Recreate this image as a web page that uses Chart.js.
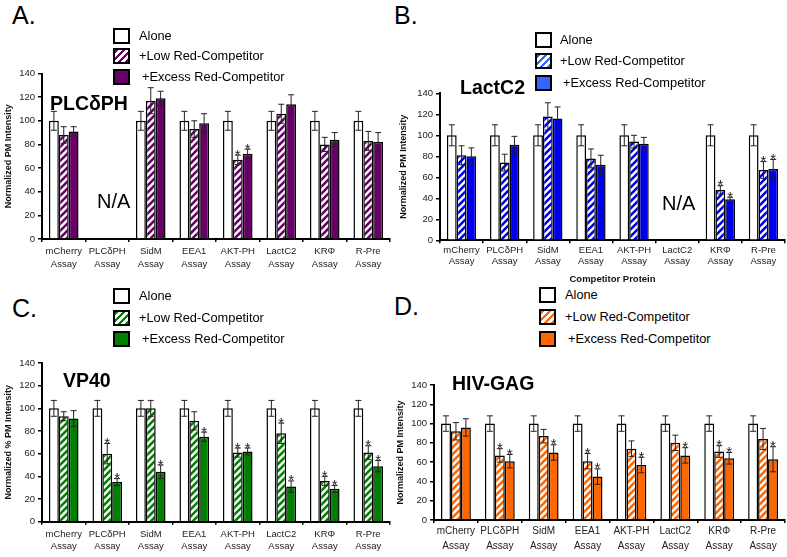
<!DOCTYPE html>
<html>
<head>
<meta charset="utf-8">
<script src="https://cdn.jsdelivr.net/npm/chart.js@4.4.1/dist/chart.umd.min.js"></script>
<style>
  body { margin: 0; background: #fff; font-family: "Liberation Sans", Arial, sans-serif; }
  #wrap { position: relative; width: 787px; height: 557px; overflow: hidden; }
  .t { position: absolute; white-space: nowrap; color: #000; line-height: 1; }
  canvas { position: absolute; }
  .box { position: absolute; width: 17px; height: 16px; border: 2px solid #000; box-sizing: border-box; }
  .lt { position: absolute; font-size: 12.8px; white-space: nowrap; line-height: 1; }
  .big { font-size: 25px; }
  .name { font-size: 19.5px; font-weight: bold; }
  .na { font-size: 20px; }
</style>
</head>
<body>
<div id="wrap">
  <canvas id="chartA" width="393" height="220" style="left:0;top:60px"></canvas>
  <canvas id="chartB" width="392" height="205" style="left:395px;top:80px"></canvas>
  <canvas id="chartC" width="393" height="207" style="left:0;top:350px"></canvas>
  <canvas id="chartD" width="392" height="185" style="left:395px;top:372px"></canvas>

  <div class="t big" style="left:12px;top:3px">A.</div>
  <div class="t big" style="left:394px;top:3px">B.</div>
  <div class="t big" style="left:12px;top:296px">C.</div>
  <div class="t big" style="left:394px;top:294px">D.</div>

  <div class="t name" style="left:50px;top:94px">PLCδPH</div>
  <div class="t name" style="left:460px;top:78px">LactC2</div>
  <div class="t name" style="left:63px;top:371px">VP40</div>
  <div class="t name" style="left:452px;top:374px">HIV-GAG</div>

  <div class="t na" style="left:97px;top:191px">N/A</div>
  <div class="t na" style="left:662px;top:193px">N/A</div>

  <div id="legA"></div><div id="legB"></div><div id="legC"></div><div id="legD"></div>
</div>
<script>
// categories and series
const categories = [['mCherry', 'Assay'], ['PLCδPH', 'Assay'], ['SidM', 'Assay'], ['EEA1', 'Assay'],
                    ['AKT-PH', 'Assay'], ['LactC2', 'Assay'], ['KRΦ', 'Assay'], ['R-Pre', 'Assay']];
const seriesNames = ['Alone', '+Low Red-Competitor', '+Excess Red-Competitor'];

// A. PLCδPH
const aAlone = [100, null, 100, 100, 100, 100, 100, 100];
const aAloneErr = [8, null, 8, 8, 8, 8, 8, 8];
const aLow = [88, null, 117, 93, 67, 106, 80, 83];
const aLowErr = [7, null, 11, 7, 4, 8, 6, 8];
const aExcess = [91, null, 119, 98, 72, 114, 84, 82];
const aExcessErr = [4, null, 6, 8, 4, 8, 6, 8];
const aLowStar = [0, 0, 0, 0, 1, 0, 0, 0];
const aExcessStar = [0, 0, 0, 0, 1, 0, 0, 0];

// B. LactC2
const bAlone = [100, 100, 100, 100, 100, null, 100, 100];
const bAloneErr = [10, 10, 10, 10, 10, null, 10, 10];
const bLow = [81, 74, 118, 78, 94, null, 48, 67];
const bLowErr = [9, 8, 13, 9, 6, null, 4, 8];
const bExcess = [80, 91, 116, 72, 92, null, 39, 68];
const bExcessErr = [8, 8, 11, 9, 6, null, 2, 9];
const bLowStar = [0, 0, 0, 0, 0, 0, 1, 1];
const bExcessStar = [0, 0, 0, 0, 0, 0, 1, 1];

// C. VP40
const cAlone = [100, 100, 100, 100, 100, 100, 100, 100];
const cAloneErr = [7, 7, 7, 7, 7, 7, 7, 7];
const cLow = [93, 60, 100, 89, 61, 78, 36, 61];
const cLowErr = [4, 9, 7, 8, 4, 9, 4, 6];
const cExcess = [91, 35, 44, 75, 62, 31, 29, 49];
const cExcessErr = [7, 3, 6, 4, 3, 5, 3, 5];
const cLowStar = [0, 1, 0, 0, 1, 1, 1, 1];
const cExcessStar = [0, 1, 1, 1, 1, 1, 1, 1];

// D. HIV-GAG
const dAlone = [100, 100, 100, 100, 100, 100, 100, 100];
const dAloneErr = [8, 8, 8, 8, 8, 8, 8, 8];
const dLow = [92, 67, 87, 61, 74, 80, 71, 84];
const dLowErr = [9, 7, 7, 8, 8, 8, 6, 11];
const dExcess = [96, 61, 70, 45, 57, 67, 64, 63];
const dExcessErr = [9, 7, 8, 8, 8, 8, 6, 13];
const dLowStar = [0, 1, 0, 1, 0, 0, 1, 0];
const dExcessStar = [0, 1, 1, 1, 1, 1, 1, 1];

const FONT = '"Liberation Sans", Arial, sans-serif';

function stripes(color) {
  const s = 7;
  const c = document.createElement('canvas');
  c.width = s; c.height = s;
  const g = c.getContext('2d');
  g.fillStyle = '#fff';
  g.fillRect(0, 0, s, s);
  g.strokeStyle = color;
  g.lineWidth = 2.6;
  g.beginPath();
  for (let x0 = -s; x0 <= s; x0 += s) {
    g.moveTo(x0 - 1, s + 1);
    g.lineTo(x0 + s + 1, -1);
  }
  g.stroke();
  return g.createPattern(c, 'repeat');
}

// error bars and significance stars
const errPlugin = {
  id: 'errs',
  afterDatasetsDraw(chart) {
    const ctx = chart.ctx;
    const y = chart.scales.y;
    chart.data.datasets.forEach((ds, i) => {
      const meta = chart.getDatasetMeta(i);
      meta.data.forEach((bar, j) => {
        const v = ds.data[j], e = ds.errors[j];
        if (v == null || e == null) return;
        const x = bar.x;
        const yt = y.getPixelForValue(v + e), yb = y.getPixelForValue(v - e);
        ctx.save();
        ctx.strokeStyle = '#222';
        ctx.lineWidth = 1;
        ctx.beginPath();
        ctx.moveTo(x, yt); ctx.lineTo(x, yb);
        ctx.moveTo(x - 3, yt); ctx.lineTo(x + 3, yt);
        ctx.moveTo(x - 3, yb); ctx.lineTo(x + 3, yb);
        ctx.stroke();
        if (ds.stars[j]) {
          ctx.fillStyle = '#222';
          ctx.font = '15px ' + FONT;
          ctx.textAlign = 'center';
          ctx.textBaseline = 'alphabetic';
          ctx.fillText('*', x, yt + 4.5);
        }
        ctx.restore();
      });
    });
  }
};

function drawPanel(id, p) {
  const border = '#000';
  new Chart(document.getElementById(id), {
    type: 'bar',
    data: {
      labels: categories,
      datasets: [
        { label: seriesNames[0], data: p.alone, errors: p.aloneErr, stars: [], backgroundColor: '#fff' },
        { label: seriesNames[1], data: p.low, errors: p.lowErr, stars: p.lowStar, backgroundColor: stripes(p.color) },
        { label: seriesNames[2], data: p.excess, errors: p.excessErr, stars: p.excessStar, backgroundColor: p.color }
      ].map(d => Object.assign(d, { borderColor: border, borderWidth: 1.5, borderSkipped: 'bottom',
                                     categoryPercentage: 0.68, barPercentage: 1.0 }))
    },
    options: {
      responsive: false,
      animation: false,
      layout: { padding: { top: p.padTop, right: p.padRight, left: 0, bottom: 0 } },
      plugins: { legend: { display: false }, tooltip: { enabled: false } },
      scales: {
        x: {
          border: { color: '#000', width: 2 },
          grid: { drawOnChartArea: false, drawTicks: true, tickLength: 3, color: '#000', lineWidth: 1.5, offset: true },
          ticks: { color: '#222', font: { family: FONT, size: p.xFont, lineHeight: p.xLine }, padding: p.xPad,
                   autoSkip: false, maxRotation: 0 },
          title: { display: !!p.xTitle, text: p.xTitle || '', color: '#111',
                   font: { family: FONT, size: 9.5, weight: 'bold' }, padding: 0 },
          afterFit: s => { s.height = p.xHeight; }
        },
        y: {
          min: 0, max: 140,
          border: { color: '#000', width: 2 },
          grid: { drawOnChartArea: false, drawTicks: true, tickLength: 4, color: '#000', lineWidth: 1.5 },
          ticks: { stepSize: 20, color: '#222', font: { family: FONT, size: 9.5 }, padding: 3 },
          title: { display: true, text: p.yTitle, color: '#111',
                   font: { family: FONT, size: 9, weight: 'bold' }, padding: { top: p.yTitlePad, bottom: 0 } },
          afterFit: s => { s.width = p.yWidth; }
        }
      }
    },
    plugins: [errPlugin]
  });
}

drawPanel('chartA', { color: '#680068', alone: aAlone, aloneErr: aAloneErr, low: aLow, lowErr: aLowErr,
  excess: aExcess, excessErr: aExcessErr, lowStar: aLowStar, excessStar: aExcessStar,
  yTitle: 'Normalized PM Intensity', yWidth: 42, yTitlePad: 3, xHeight: 41, padTop: 13.5, padRight: 3,
  xFont: 9.5, xLine: 1.35, xPad: 3 });
drawPanel('chartB', { color: '#0000ee', alone: bAlone, aloneErr: bAloneErr, low: bLow, lowErr: bLowErr,
  excess: bExcess, excessErr: bExcessErr, lowStar: bLowStar, excessStar: bExcessStar,
  yTitle: 'Normalized PM Intensity', yWidth: 45, yTitlePad: 3, xHeight: 44.7, padTop: 13.3, padRight: 2,
  xFont: 9.5, xLine: 1.12, xPad: 2, xTitle: 'Competitor Protein' });
drawPanel('chartC', { color: '#008000', alone: cAlone, aloneErr: cAloneErr, low: cLow, lowErr: cLowErr,
  excess: cExcess, excessErr: cExcessErr, lowStar: cLowStar, excessStar: cExcessStar,
  yTitle: 'Normalized % PM Intensity', yWidth: 42, yTitlePad: 3, xHeight: 35.3, padTop: 13, padRight: 3,
  xFont: 9.5, xLine: 1.25, xPad: 4 });
drawPanel('chartD', { color: '#ff6600', alone: dAlone, aloneErr: dAloneErr, low: dLow, lowErr: dLowErr,
  excess: dExcess, excessErr: dExcessErr, lowStar: dLowStar, excessStar: dExcessStar,
  yTitle: 'Normalized PM Intensity', yWidth: 39, yTitlePad: 0, xHeight: 37, padTop: 13, padRight: 2,
  xFont: 10, xLine: 1.45, xPad: 1 });

// legends
function legend(id, color, boxX, textX, rowTops) {
  const el = document.getElementById(id);
  const fills = ['#fff',
    `repeating-linear-gradient(135deg, ${color} 0 2.5px, #fff 2.5px 5px)`,
    color];
  seriesNames.forEach((name, i) => {
    const b = document.createElement('div');
    b.className = 'box';
    b.style.left = boxX + 'px';
    b.style.top = rowTops[i] + 'px';
    b.style.background = fills[i];
    el.appendChild(b);
    const t = document.createElement('div');
    t.className = 'lt';
    t.textContent = name;
    t.style.left = (textX + (i === 2 ? 3 : 0)) + 'px';
    t.style.top = (rowTops[i] + 1.5) + 'px';
    el.appendChild(t);
  });
}
legend('legA', '#680068', 113, 139, [28, 48, 69]);
legend('legB', '#3366ff', 535, 560, [32, 53, 75]);
legend('legC', '#008000', 113, 139, [288, 310, 331]);
legend('legD', '#ff6600', 539, 565, [287, 309, 331]);
</script>
</body>
</html>
